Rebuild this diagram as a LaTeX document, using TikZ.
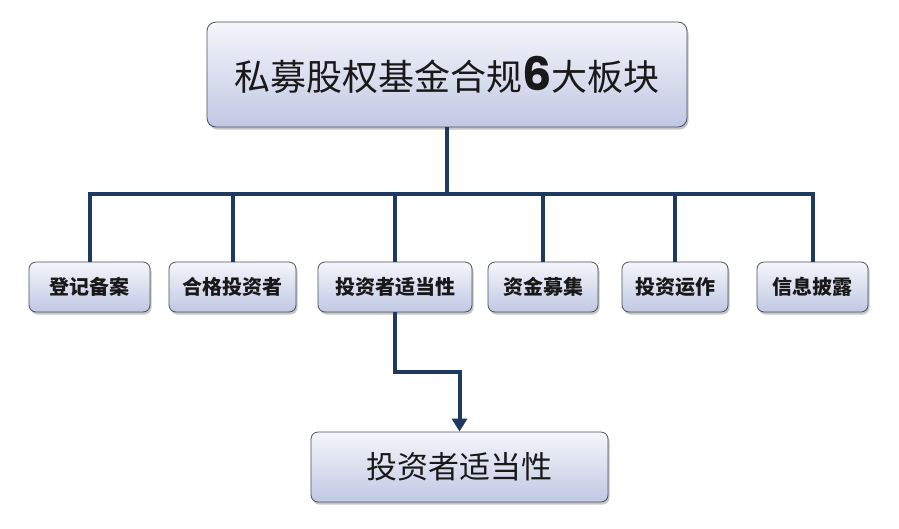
\documentclass[tikz,border=0pt]{standalone}
\usepackage{fontspec}
\setmainfont{Noto Sans CJK SC}
\newfontfamily\numfont{Poppins}
\usetikzlibrary{shadows,arrows.meta}
\definecolor{linkblue}{HTML}{1F3A60}
\definecolor{boxtop}{HTML}{F5F6FB}
\definecolor{boxbot}{HTML}{C0C8E3}
\definecolor{boxline}{HTML}{4A505E}
\tikzset{
  box/.style={draw=boxline, line width=0.8pt, rounded corners=7pt,
    top color=boxtop, bottom color=boxbot, inner sep=0pt, text=black!90,
    drop shadow={shadow xshift=1.5pt, shadow yshift=-2.5pt, fill=black!50, opacity=0.45}},
  smallbox/.style={box, minimum height=50pt, font=\fontsize{20}{23}\selectfont\bfseries},
  link/.style={draw=linkblue, line width=4pt},
}
\begin{document}
\begin{tikzpicture}[x=1pt,y=-1pt]
\useasboundingbox[fill=white] (0,0) rectangle (899,528);
% top box
\node[box, minimum width=480pt, minimum height=105pt, rounded corners=9pt,
  font=\fontsize{36}{40}\selectfont] (title) at (447,74.5)
  {私募股权基金合规{\numfont\bfseries\fontsize{46}{46}\selectfont 6}大板块};
% six parts
\node[smallbox, minimum width=121pt] (reg)  at (89.5,287)  {登记备案};
\node[smallbox, minimum width=127pt] (qual) at (232.5,287) {合格投资者};
\node[smallbox, minimum width=154pt] (suit) at (395,287)   {投资者适当性};
\node[smallbox, minimum width=110pt] (fund) at (543,287)   {资金募集};
\node[smallbox, minimum width=106pt] (oper) at (675,287)   {投资运作};
\node[smallbox, minimum width=111pt] (disc) at (812.5,287) {信息披露};
% bottom box
\node[box, minimum width=297pt, minimum height=70pt,
  font=\fontsize{31}{35}\selectfont] (invest) at (459.5,467) {投资者适当性};
\coordinate (bus) at (447,194);
\draw[link] (title.south) -- (bus);
\foreach \part in {reg,qual,suit,fund,oper,disc}
  \draw[link] (\part.north) |- (bus);
\draw[link,-{Triangle[length=13pt,width=15pt]}] (suit.south) -- ++(0,60) -| (invest.north);
\end{tikzpicture}
\end{document}
